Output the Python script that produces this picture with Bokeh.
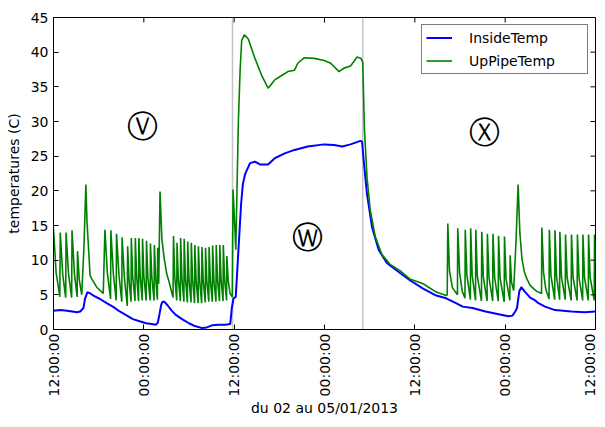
import math
import pandas as pd
from bokeh.plotting import figure
from bokeh.models import Range1d, FixedTicker, DatetimeTickFormatter, Span
from bokeh.core.properties import value
from bokeh.embed import file_html
from bokeh.resources import INLINE

# ---------------- data (hours after 02/01/2013 12:00:00) ----------------
START = "2013-01-02 12:00:00"

inside_h = [0.00, 0.92, 1.80, 2.50, 3.11, 3.55, 3.98, 4.20, 4.51, 4.86, 5.30, 6.18, 7.06, 7.88,
            8.80, 9.59, 10.55, 11.43, 12.31, 13.01, 13.63, 13.86, 14.06, 14.32, 14.49, 14.72,
            15.15, 15.64, 16.25, 17.08, 18.00, 18.79, 19.75, 20.37, 21.06, 21.94, 22.82, 23.48,
            23.69, 23.91, 24.21, 24.57, 24.92, 25.16, 25.45, 26.11, 26.76, 27.42, 28.51, 29.39,
            30.71, 32.02, 33.77, 35.96, 37.28, 38.37, 39.46, 40.77, 40.99, 41.21, 41.65, 42.31,
            43.19, 44.28, 45.59, 47.34, 49.10, 50.85, 52.16, 53.47, 54.35, 55.66, 57.39, 59.61,
            60.47, 60.96, 61.35, 61.57, 61.88, 62.14, 62.67, 63.32, 63.98, 64.42, 65.30, 66.62,
            68.81, 70.56, 72.00]
inside_v = [2.7, 2.8, 2.7, 2.6, 2.5, 2.6, 3.1, 4.5, 5.4, 5.2, 4.9, 4.4, 3.8, 3.3,
            2.6, 2.1, 1.5, 1.2, 0.9, 0.8, 0.7, 1.0, 2.1, 3.6, 4.0, 4.0,
            3.5, 2.8, 2.1, 1.5, 0.9, 0.5, 0.2, 0.3, 0.6, 0.7, 0.7, 0.8,
            3.1, 4.5, 4.7, 11.5, 18.1, 21.0, 22.4, 24.0, 24.2, 23.8, 23.8, 24.7,
            25.4, 25.9, 26.4, 26.7, 26.6, 26.4, 26.7, 27.2, 27.1, 24.3, 19.5, 14.8,
            11.5, 9.6, 8.5, 7.1, 5.9, 4.9, 4.5, 3.8, 3.3, 3.1, 2.6, 2.1,
            1.9, 2.0, 2.6, 3.1, 5.5, 6.1, 5.4, 4.6, 4.2, 3.8, 3.3, 2.8,
            2.6, 2.5, 2.6]

pipe_h = [0.00, 0.35, 0.84, 0.90, 1.22, 1.62, 1.67, 2.00, 2.41, 2.46, 2.78, 3.14, 3.19, 3.42,
          3.75, 4.05, 4.30, 4.45, 4.64, 4.86, 5.08, 5.74, 6.61,
          6.83, 7.15, 7.58, 7.62, 7.95, 8.33, 8.37, 8.70, 9.07, 9.11, 9.42, 9.80,
          9.85, 10.03, 10.30, 10.34, 10.52, 10.83, 10.87, 11.05, 11.30, 11.34, 11.52, 11.79,
          11.83, 12.01, 12.31, 12.35, 12.54, 12.84, 12.88, 13.07, 13.36, 13.40, 13.58, 13.80,
          13.84, 13.98, 14.15, 14.40, 14.72, 15.05, 15.37, 15.88,
          15.94, 16.11, 16.37, 16.41, 16.58, 16.85, 16.89, 17.06, 17.32, 17.36, 17.53, 17.79,
          17.83, 18.00, 18.27, 18.31, 18.48, 18.74, 18.78, 18.95, 19.21, 19.25, 19.42, 19.68,
          19.72, 19.89, 20.16, 20.20, 20.37, 20.63, 20.67, 20.84, 21.10, 21.14, 21.31, 21.58,
          21.62, 21.79, 22.05, 22.09, 22.26, 22.52, 22.56, 22.73, 22.99,
          23.03, 23.20, 23.45, 23.75, 23.85, 24.22, 24.37, 24.57, 24.79, 25.00, 25.36, 25.88,
          26.76, 27.63, 28.51, 29.39, 30.26, 31.14, 32.02, 32.45, 33.33, 34.65, 35.96, 36.83,
          37.93, 38.59, 39.46, 40.34, 40.86, 41.08, 41.30, 41.65, 42.08, 42.74, 43.62, 44.71,
          46.02, 47.34, 49.10, 50.85, 52.16, 52.30,
          52.38, 52.60, 53.00, 53.66, 53.70, 53.95, 54.30, 54.66, 54.70, 54.92, 55.38,
          55.42, 55.62, 56.06, 56.10, 56.30, 56.85, 56.89, 57.10, 57.60, 57.64, 57.85, 58.34,
          58.38, 58.60, 59.08, 59.12, 59.33, 59.87, 59.91, 60.12, 60.62, 60.66, 60.85, 61.13,
          61.45, 61.72, 61.95, 62.24, 62.55, 62.89, 63.30, 63.76, 64.20, 64.83,
          64.87, 65.10, 65.40, 65.83, 65.87, 66.08, 66.58, 66.62, 66.82, 67.23, 67.27, 67.48,
          67.98, 68.02, 68.23, 68.77, 68.81, 69.02, 69.56, 69.60, 69.81, 70.29, 70.33, 70.54,
          71.04, 71.08, 71.29, 71.83, 71.87, 72.00]
pipe_v = [14.5, 8.2, 4.7, 14.0, 8.0, 4.6, 14.0, 8.0, 4.6, 14.3, 8.1, 4.7, 11.3, 7.2,
          5.0, 12.0, 20.9, 15.5, 12.0, 7.8, 7.3, 6.1, 5.2,
          14.4, 8.2, 4.4, 14.3, 8.0, 4.2, 13.8, 7.8, 4.0, 13.3, 7.4, 3.4,
          12.0, 7.2, 4.0, 13.2, 7.6, 4.1, 13.2, 7.6, 4.1, 13.2, 7.6, 4.2,
          13.1, 7.6, 4.2, 12.8, 7.5, 4.2, 12.4, 7.4, 4.2, 12.2, 7.3, 4.3,
          11.8, 6.6, 19.9, 13.0, 10.1, 8.0, 6.8, 4.6,
          13.5, 7.6, 4.2, 12.5, 7.3, 4.1, 13.2, 7.4, 4.0, 13.1, 7.3, 3.9,
          12.7, 7.2, 3.9, 12.5, 7.1, 3.8, 12.2, 7.0, 3.8, 12.0, 7.0, 3.8,
          11.9, 7.0, 3.9, 11.8, 7.0, 4.0, 11.9, 7.0, 4.0, 12.1, 7.1, 4.0,
          12.2, 7.2, 4.1, 12.2, 7.2, 4.1, 12.2, 7.2, 4.2,
          10.6, 7.2, 5.2, 4.7, 20.2, 11.5, 20.0, 30.4, 37.4, 41.7, 42.5, 41.9,
          39.1, 36.7, 34.8, 36.0, 36.6, 37.2, 37.4, 38.4, 39.2, 39.1, 38.8, 38.4,
          37.2, 37.7, 38.0, 39.3, 39.1, 38.5, 29.0, 21.9, 17.2, 13.4, 10.8, 9.4,
          8.5, 7.3, 6.6, 5.4, 4.9, 5.0,
          15.3, 8.5, 6.0, 5.0, 14.6, 8.2, 5.5, 4.5, 14.4, 7.8, 4.3,
          14.6, 7.8, 4.2, 14.4, 7.7, 4.1, 14.1, 7.6, 4.1, 13.8, 7.5, 4.1,
          13.8, 7.5, 4.1, 13.5, 7.4, 4.0, 13.4, 7.3, 4.2, 10.7, 6.8, 5.6,
          13.0, 20.9, 14.0, 10.1, 8.3, 7.3, 6.4, 5.9, 5.5, 5.2,
          14.7, 8.2, 5.8, 4.4, 14.4, 7.8, 4.3, 14.3, 7.7, 4.3, 14.1, 7.6,
          4.3, 13.7, 7.5, 4.2, 13.7, 7.5, 4.2, 13.7, 7.5, 4.2, 13.7, 7.5,
          4.2, 13.7, 7.5, 4.2, 13.7, 9.5]

vline_h = [23.78, 41.08]

ann_h = [11.86, 33.7, 57.2]
ann_v = [29.3, 13.3, 28.5]
ann_txt = ["\u24cb", "\u24cc", "\u24cd"]

tick_h = [0, 12, 24, 36, 48, 60, 72]
y_ticks = [0, 5, 10, 15, 20, 25, 30, 35, 40, 45]
Y_MIN, Y_MAX = 0, 45

# ---------------- conversions ----------------
t0 = pd.Timestamp(START)
def to_time(hours):
    return [t0 + pd.Timedelta(hours=h) for h in hours]
def to_ms(hours):
    return [(t - pd.Timestamp("1970-01-01")) / pd.Timedelta(milliseconds=1) for t in to_time(hours)]

FONT = "DejaVu Sans"
FS = "14px"

p = figure(width=597, height=419, x_axis_type="datetime",
           x_range=Range1d(*to_time([tick_h[0], tick_h[-1]])), y_range=Range1d(Y_MIN, Y_MAX),
           output_backend="svg", toolbar_location=None,
           min_border_left=53, min_border_right=2, min_border_top=17, min_border_bottom=86)
p.background_fill_color = "white"
p.border_fill_color = "white"
p.outline_line_color = "black"
p.outline_line_width = 1
p.grid.visible = False

for h in to_ms(vline_h):
    p.add_layout(Span(location=h, dimension="height", line_color="#c4c4c4",
                      line_width=1.5, level="underlay"))

p.line(to_time(inside_h), inside_v, line_color="#0000ff", line_width=2, legend_label="InsideTemp")
p.line(to_time(pipe_h), pipe_v, line_color="#008000", line_width=1.6, legend_label="UpPipeTemp")

p.text(x=to_time(ann_h), y=ann_v, text=ann_txt, text_font=value(FONT), text_font_size="31px",
       text_align="center", text_baseline="middle", text_color="black")

# inward tick marks on the top and right edges of the frame
p.ray(x=to_time(tick_h), y=[Y_MAX] * len(tick_h), length=5, length_units="screen",
      angle=-math.pi / 2, line_color="black", line_width=1)
p.ray(x=to_time([tick_h[-1]] * len(y_ticks)), y=y_ticks, length=5, length_units="screen",
      angle=math.pi, line_color="black", line_width=1)

fmt = "%H:%M:%S"
formatter = DatetimeTickFormatter(microseconds=fmt, milliseconds=fmt, seconds=fmt, minsec=fmt,
                                  minutes=fmt, hourmin=fmt, hours=fmt, days=fmt, months=fmt,
                                  years=fmt)

def style(ax):
    ax.axis_line_color = "black"
    ax.major_tick_line_color = "black"
    ax.major_tick_in = 5
    ax.major_tick_out = 0
    ax.minor_tick_line_color = None
    ax.major_label_text_font = FONT
    ax.major_label_text_color = "black"
    ax.major_label_text_font_size = FS
    ax.axis_label_text_font = FONT
    ax.axis_label_text_font_size = FS
    ax.axis_label_text_font_style = "normal"
    ax.axis_label_text_color = "black"

xa = p.xaxis[0]
xa.ticker = FixedTicker(ticks=to_ms(tick_h))
xa.formatter = formatter
xa.major_label_orientation = math.pi / 2
xa.axis_label = "du 02 au 05/01/2013"
xa.axis_label_standoff = 1
xa.major_label_standoff = 4
style(xa)

ya = p.yaxis[0]
ya.ticker = FixedTicker(ticks=y_ticks)
ya.axis_label = "temperatures (C)"
ya.axis_label_standoff = 6
ya.major_label_standoff = 5
style(ya)

lg = p.legend[0]
lg.location = "top_right"
lg.margin = 7
lg.padding = 4
lg.spacing = 6
lg.label_height = 17
lg.glyph_height = 17
lg.glyph_width = 26
lg.label_standoff = 17
lg.label_width = 114
lg.label_text_font = FONT
lg.label_text_font_size = FS
lg.label_text_color = "black"
lg.border_line_color = "black"
lg.border_line_width = 1
lg.background_fill_color = "white"
lg.background_fill_alpha = 1

open("out.html", "w").write(file_html(p, INLINE))
